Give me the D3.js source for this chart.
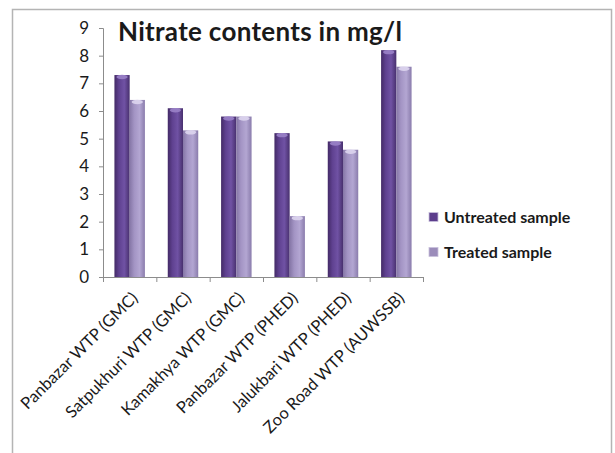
<!DOCTYPE html>
<html>
<head>
<meta charset="utf-8">
<script src="https://cdn.jsdelivr.net/npm/d3@7"></script>
<style>
  html, body { margin: 0; padding: 0; background: #fff; }
  svg { display: block; }
  text { font-family: Lato, "Open Sans", sans-serif; fill: #1a1a1a; }
</style>
</head>
<body>
<svg id="chart" width="615" height="453"></svg>
<script>
// Nitrate measurements per water treatment plant (mg/l)
const plants = [
  "Panbazar WTP (GMC)",
  "Satpukhuri WTP (GMC)",
  "Kamakhya WTP (GMC)",
  "Panbazar WTP (PHED)",
  "Jalukbari WTP (PHED)",
  "Zoo Road WTP (AUWSSB)"
];
const untreated = [7.3, 6.1, 5.8, 5.2, 4.9, 8.2];
const treated   = [6.4, 5.3, 5.8, 2.2, 4.6, 7.6];
const seriesNames = ["Untreated sample", "Treated sample"];
const yTicks = [0, 1, 2, 3, 4, 5, 6, 7, 8, 9];

const svg = d3.select("#chart");

// outer chart frame
svg.append("rect")
  .attr("x", 12.5).attr("y", 9.5)
  .attr("width", 599).attr("height", 460)
  .attr("fill", "none").attr("stroke", "#b4b4b4").attr("stroke-width", 1.5);

const plot = { left: 103, right: 423, top: 28, bottom: 277 };

const x = d3.scaleBand().domain(plants).range([plot.left, plot.right]).padding(0);
const inner = d3.scaleBand().domain(seriesNames)
  .range([0, x.bandwidth()]).paddingInner(0).paddingOuter(0.75);
const y = d3.scaleLinear().domain([0, 9]).range([plot.bottom, plot.top]);

// cylinder-like shading for each series
const defs = svg.append("defs");
const shades = [
  { id: "gU", stops: [["0%", "#432a66"], ["30%", "#5f4190"], ["65%", "#7052a4"], ["100%", "#48306e"]], cap: "#9a82c8" },
  { id: "gT", stops: [["0%", "#8576a6"], ["30%", "#a394c4"], ["65%", "#b3a6d2"], ["100%", "#8a7cac"]], cap: "#ddd5ee" }
];
shades.forEach(s => {
  const g = defs.append("linearGradient").attr("id", s.id)
    .attr("x1", "0").attr("x2", "1").attr("y1", "0").attr("y2", "0");
  s.stops.forEach(([o, c]) => g.append("stop").attr("offset", o).attr("stop-color", c));
});

const rows = plants.map((p, i) => ({ plant: p, values: [untreated[i], treated[i]] }));

const groups = svg.append("g").selectAll("g")
  .data(rows).join("g")
  .attr("transform", d => `translate(${x(d.plant)},0)`);

const bars = groups.selectAll("g.bar")
  .data(d => d.values.map((v, k) => ({ v, k })))
  .join("g").attr("class", "bar");

bars.append("rect")
  .attr("x", d => inner(seriesNames[d.k]))
  .attr("y", d => y(d.v))
  .attr("width", inner.bandwidth())
  .attr("height", d => y(0) - y(d.v))
  .attr("fill", d => `url(#${shades[d.k].id})`);

// lighter elliptical top of each bar
bars.append("ellipse")
  .attr("cx", d => inner(seriesNames[d.k]) + inner.bandwidth() / 2)
  .attr("cy", d => y(d.v) + 2)
  .attr("rx", inner.bandwidth() / 2 - 2)
  .attr("ry", 2.2)
  .attr("fill", d => shades[d.k].cap)
  .attr("opacity", 0.9);

// y axis
const yAxis = svg.append("g")
  .attr("transform", `translate(${plot.left},0)`)
  .call(d3.axisLeft(y).tickValues(yTicks).tickSize(4).tickPadding(10).tickFormat(d3.format("d")));
yAxis.select(".domain").attr("stroke", "#8c8c8c");
yAxis.selectAll(".tick line").attr("stroke", "#8c8c8c");
yAxis.selectAll(".tick text")
  .style("font-size", "17px").attr("fill", "#222");

// x axis: ticks between categories
const xAxisG = svg.append("g");
xAxisG.append("line")
  .attr("x1", plot.left).attr("x2", plot.right)
  .attr("y1", plot.bottom + 0.5).attr("y2", plot.bottom + 0.5)
  .attr("stroke", "#8c8c8c");
const boundaries = plants.map(p => x(p)).concat([plot.right]);
xAxisG.selectAll("line.tk").data(boundaries).join("line").attr("class", "tk")
  .attr("x1", d => d + 0.5).attr("x2", d => d + 0.5)
  .attr("y1", plot.bottom).attr("y2", plot.bottom + 5)
  .attr("stroke", "#8c8c8c");

xAxisG.selectAll("text.cat").data(plants).join("text").attr("class", "cat")
  .attr("transform", d => `translate(${x(d) + x.bandwidth() / 2 + 5},${plot.bottom + 18}) rotate(-45)`)
  .attr("text-anchor", "end")
  .attr("dy", "0.35em")
  .style("font-size", "16.5px")
  .text(d => d);

// title
svg.append("text")
  .attr("x", 118).attr("y", 41)
  .style("font-size", "26px").style("font-weight", "bold")
  .attr("fill", "#111")
  .attr("textLength", 284)
  .text("Nitrate contents in mg/l");

// legend
const legend = svg.append("g");
const legendColors = ["#5c3d8c", "#9b8cba"];
seriesNames.forEach((name, i) => {
  const ly = 217 + i * 35;
  legend.append("rect")
    .attr("x", 429).attr("y", ly - 4.5).attr("width", 9).attr("height", 9)
    .attr("fill", legendColors[i]).attr("stroke", "#c9c0dc").attr("stroke-width", 0.8);
  legend.append("text")
    .attr("x", 444).attr("y", ly).attr("dy", "0.36em")
    .style("font-size", "16px").style("font-weight", "bold").attr("fill", "#1a1a1a")
    .text(name);
});
</script>
</body>
</html>
